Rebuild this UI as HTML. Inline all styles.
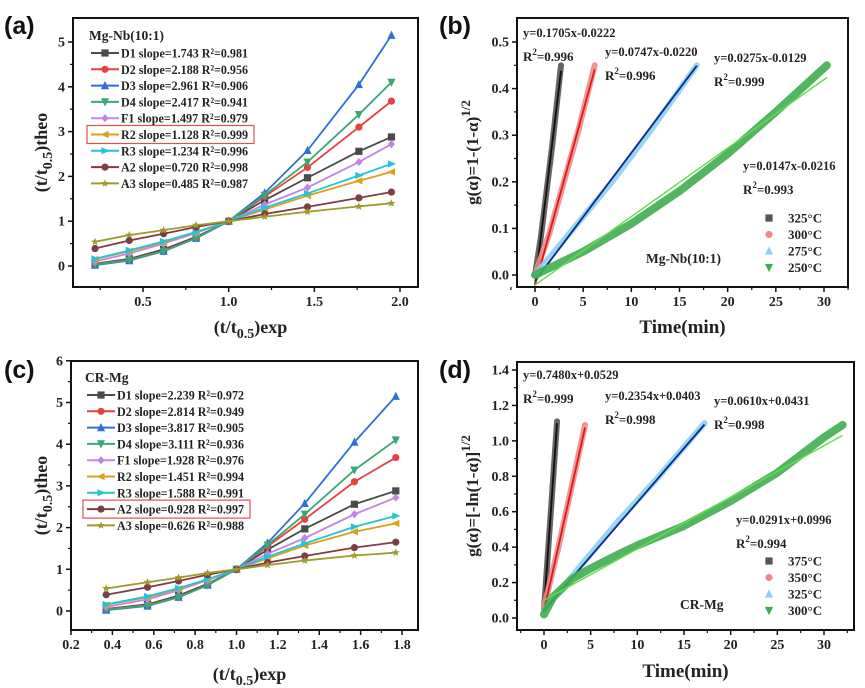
<!DOCTYPE html>
<html><head><meta charset="utf-8">
<style>
html,body{margin:0;padding:0;background:#fff;}
svg{display:block;}
text{font-family:"Liberation Serif",serif;font-weight:bold;fill:#222;}
.lab{font-family:"Liberation Sans",sans-serif;font-size:25px;fill:#111;}
</style></head>
<body>
<svg id="fig" width="865" height="688" viewBox="0 0 865 688" xmlns="http://www.w3.org/2000/svg"></svg>
<script>
// ---- Data: panels (a) and (c) ----
const seriesNames = ["D1","D2","D3","D4","F1","R2","R3","A2","A3"];
const xA = [0.22,0.42,0.62,0.81,1.0,1.21,1.46,1.76,1.95];
const xC = [0.37,0.57,0.72,0.86,1.0,1.15,1.33,1.57,1.77];
const yD1 = [0.05,0.16,0.37,0.65,1,1.47,1.97,2.56,2.88];
const yD2 = [0.04,0.14,0.34,0.63,1,1.55,2.2,3.1,3.68];
const yD3 = [0.02,0.12,0.33,0.62,1,1.63,2.58,4.05,5.15];
const yD4 = [0.03,0.13,0.33,0.62,1,1.58,2.32,3.38,4.1];
const yF1 = [0.1,0.28,0.5,0.74,1,1.37,1.75,2.32,2.72];
const yR2 = [0.15,0.33,0.53,0.76,1,1.26,1.57,1.9,2.1];
const yR3 = [0.16,0.35,0.55,0.76,1,1.3,1.62,2.02,2.28];
const yA2 = [0.39,0.57,0.72,0.87,1,1.16,1.32,1.52,1.65];
const yA3 = [0.54,0.69,0.8,0.91,1,1.1,1.21,1.33,1.4];
const legendA = ["D1 slope=1.743 R²=0.981","D2 slope=2.188 R²=0.956","D3 slope=2.961 R²=0.906","D4 slope=2.417 R²=0.941","F1 slope=1.497 R²=0.979","R2 slope=1.128 R²=0.999","R3 slope=1.234 R²=0.996","A2 slope=0.720 R²=0.998","A3 slope=0.485 R²=0.987"];
const legendC = ["D1 slope=2.239 R²=0.972","D2 slope=2.814 R²=0.949","D3 slope=3.817 R²=0.905","D4 slope=3.111 R²=0.936","F1 slope=1.928 R²=0.976","R2 slope=1.451 R²=0.994","R3 slope=1.588 R²=0.991","A2 slope=0.928 R²=0.997","A3 slope=0.626 R²=0.988"];
const ticksAx = [0.5,1.0,1.5,2.0];
const ticksAy = [0,1,2,3,4,5];
const ticksCx = [0.2,0.4,0.6,0.8,1.0,1.2,1.4,1.6,1.8];
const ticksCy = [0,1,2,3,4,5,6];
// ---- Data: panel (b) ----
const bTemps = ["325°C","300°C","275°C","250°C"];
const bDataT = [[0,0.6,1.2,1.8,2.7],[0,1.5,3,4.5,6.2],[0,4,8,12,16.8],[0,5,10,15,20,25,30.3]];
const bDataY = [[0,0.08,0.18,0.28,0.45],[0,0.09,0.2,0.31,0.45],[0,0.1,0.2,0.31,0.45],[0,0.05,0.11,0.18,0.26,0.35,0.45]];
const bSlope = [0.1705,0.0747,0.0275,0.0147];
const bInter = [-0.0222,-0.0220,-0.0129,-0.0216];
const bFitEnd = [2.7,6.2,16.8,30.3];
const ticksBx = [0,5,10,15,20,25,30];
const ticksBy = [0,0.1,0.2,0.3,0.4,0.5];
// ---- Data: panel (d) ----
const dTemps = ["375°C","350°C","325°C","300°C"];
const dDataT = [[0,0.4,0.8,1.4],[0,1.5,3,4.4],[0,4,8,12,17.2],[0,1,3,5,8,10,15,20,25,30,32]];
const dDataY = [[0.05,0.35,0.65,1.11],[0.06,0.39,0.75,1.09],[0.04,0.3,0.55,0.78,1.1],[0.02,0.12,0.22,0.28,0.36,0.41,0.52,0.66,0.82,1.02,1.09]];
const dSlope = [0.7480,0.2354,0.0610,0.0291];
const dInter = [0.0529,0.0403,0.0431,0.0996];
const dFitEnd = [1.4,4.4,17.2,32];
const ticksDx = [0,5,10,15,20,25,30];
const ticksDy = [0,0.2,0.4,0.6,0.8,1.0,1.2,1.4];

const NS="http://www.w3.org/2000/svg";
const svg=document.getElementById('fig');
function mk(tag,attrs,parent){const e=document.createElementNS(NS,tag);for(const k in attrs)e.setAttribute(k,attrs[k]);(parent||svg).appendChild(e);return e;}
function txt(s,attrs,parent){const e=mk('text',attrs,parent);e.textContent=s;return e;}

const colors=["#4a4a4a","#e8413c","#2f6fd6","#3aa872","#c184e8","#d9a21a","#22c4d6","#7e3d45","#9f9a2c"];
const markers=["square","circle","up","down","diamond","left","right","circle","star"];
function marker(type,x,y,c,g){
 const s=3.6;
 if(type==="square")return mk('rect',{x:x-s,y:y-s,width:2*s,height:2*s,fill:c},g);
 if(type==="circle")return mk('circle',{cx:x,cy:y,r:s,fill:c},g);
 let p;
 if(type==="up")p=[[x,y-s-1],[x-s-0.5,y+s],[x+s+0.5,y+s]];
 if(type==="down")p=[[x,y+s+1],[x-s-0.5,y-s],[x+s+0.5,y-s]];
 if(type==="left")p=[[x-s-1,y],[x+s,y-s],[x+s,y+s]];
 if(type==="right")p=[[x+s+1,y],[x-s,y-s],[x-s,y+s]];
 if(type==="diamond")p=[[x,y-s-0.5],[x+s,y],[x,y+s+0.5],[x-s,y]];
 if(type==="star"){p=[];for(let i=0;i<10;i++){const r=i%2?1.8:4.2,a=-Math.PI/2+i*Math.PI/5;p.push([x+r*Math.cos(a),y+r*Math.sin(a)]);}}
 return mk('polygon',{points:p.map(q=>q.join(',')).join(' '),fill:c},g);
}

function axes(g,fr,sx,sy,xt,yt,xfmt,yfmt,minorX,minorY){
 mk('rect',{x:fr.l,y:fr.t,width:fr.r-fr.l,height:fr.b-fr.t,fill:'none',stroke:'#111','stroke-width':2},g);
 xt.forEach(v=>{const x=sx(v);mk('line',{x1:x,y1:fr.b,x2:x,y2:fr.b+5,stroke:'#111','stroke-width':1.5},g);
  txt(xfmt(v),{x:x,y:fr.b+19,'text-anchor':'middle','font-size':14},g);});
 minorX.forEach(v=>{const x=sx(v);mk('line',{x1:x,y1:fr.b,x2:x,y2:fr.b+3,stroke:'#111','stroke-width':1.2},g);});
 yt.forEach(v=>{const y=sy(v);mk('line',{x1:fr.l-5,y1:y,x2:fr.l,y2:y,stroke:'#111','stroke-width':1.5},g);
  txt(yfmt(v),{x:fr.l-8,y:y+4.5,'text-anchor':'end','font-size':14},g);});
 minorY.forEach(v=>{const y=sy(v);mk('line',{x1:fr.l-3,y1:y,x2:fr.l,y2:y,stroke:'#111','stroke-width':1.2},g);});
}

const ys=[yD1,yD2,yD3,yD4,yF1,yR2,yR3,yA2,yA3];
function panelAC(opts){
 const g=mk('g',{},svg);
 
 
 const fr=opts.fr;
 const sx=v=>opts.x0px+(v-opts.x0)*opts.xk, sy=v=>opts.y0px-v*opts.yk;
 axes(g,fr,sx,sy,opts.xt,opts.yt,opts.xfmt,v=>String(v),opts.minorX,opts.minorY);
 ys.forEach((arr,i)=>{
  const sg=mk('g',{},g);
  
  
  const pts=opts.xs.map((x,j)=>sx(x)+','+sy(arr[j])).join(' ');
  mk('polyline',{points:pts,fill:'none',stroke:colors[i],'stroke-width':1.8},sg);
  opts.xs.forEach((x,j)=>marker(markers[i],sx(x),sy(arr[j]),colors[i],sg));
 });
 const lg=mk('g',{},g);
 
 
 txt(opts.title,{x:opts.lx-2,y:opts.ly-13,'font-size':13.5},lg);
 opts.legend.forEach((s,i)=>{
  const y=opts.ly+i*16.3;
  const eg=mk('g',{},lg);
  
  
  mk('line',{x1:opts.lx,y1:y,x2:opts.lx+28,y2:y,stroke:colors[i],'stroke-width':2},eg);
  marker(markers[i],opts.lx+14,y,colors[i],eg);
  txt(s,{x:opts.lx+30,y:y+4.5,'font-size':13,textLength:127,lengthAdjust:'spacingAndGlyphs'},eg);
 });
 const bi=opts.boxIdx, by=opts.ly+bi*16.3;
 const box=mk('rect',{x:opts.lx-4,y:by-9,width:167,height:18,fill:'none',stroke:'#e05050','stroke-width':1.2},lg);
 
 
 const xtl=txt('',{x:(fr.l+fr.r)/2+5,y:opts.xTitleY,'text-anchor':'middle','font-size':18},g);
 xtl.innerHTML='(t/t<tspan font-size="14" dy="5">0.5</tspan><tspan dy="-5">)exp</tspan>';
 
 
 const cy=(fr.t+fr.b)/2;
 const ytl=txt('',{x:0,y:0,'text-anchor':'middle','font-size':18,transform:`translate(${opts.yTitleX},${cy}) rotate(-90)`},g);
 ytl.innerHTML='(t/t<tspan font-size="14" dy="5">0.5</tspan><tspan dy="-5">)theo</tspan>';
 
 
 const pl=txt(opts.label,{x:4,y:opts.labelY,class:'lab'},g);
 
 
}

panelAC({name:'panel-a',fr:{l:73,r:418,t:18,b:287},x0:0.5,x0px:143,xk:(400-143)/1.5,y0px:266,yk:44.8,
 xs:xA,xt:ticksAx,yt:ticksAy,xfmt:v=>v.toFixed(1),minorX:[0.25,0.75,1.25,1.75],minorY:[0.5,1.5,2.5,3.5,4.5],
 legend:legendA,title:'Mg-Nb(10:1)',lx:91,ly:53,boxIdx:5,xTitleY:333,yTitleX:47,label:'(a)',labelY:34});
panelAC({name:'panel-c',fr:{l:71,r:418,t:361,b:630},x0:0.2,x0px:71,xk:(402-71)/1.6,y0px:611,yk:41.7,
 xs:xC,xt:ticksCx,yt:ticksCy,xfmt:v=>v.toFixed(1),minorX:[0.3,0.5,0.7,0.9,1.1,1.3,1.5,1.7],minorY:[0.5,1.5,2.5,3.5,4.5,5.5],
 legend:legendC,title:'CR-Mg',lx:87,ly:395,boxIdx:7,xTitleY:680,yTitleX:47,label:'(c)',labelY:378});

const tColors=["#555","#ef8a8a","#8cd0f2","#3fae4f"];
const fitColors=["#111","#e01818","#0a2a8a","#5fe04a"];
function panelBD(o){
 const g=mk('g',{},svg);
 
 
 const fr=o.fr;
 const sx=v=>o.x0px+v*o.xk, sy=v=>o.y0px-v*o.yk;
 axes(g,fr,sx,sy,o.xt,o.yt,v=>String(v),v=>v.toFixed(1),o.minorX,o.minorY);
 o.T.forEach((ts,i)=>{
  const sg=mk('g',{},g);
  
  
  mk('polyline',{points:ts.map((t,j)=>sx(t)+','+sy(o.Y[i][j])).join(' '),fill:'none',stroke:tColors[i],'stroke-width':i===3?8:6,'stroke-linecap':'round','stroke-linejoin':'round',opacity:0.9},sg);
  const f=mk('line',{x1:sx(0),y1:sy(o.inter[i]),x2:sx(o.fitEnd[i]),y2:sy(o.slope[i]*o.fitEnd[i]+o.inter[i]),stroke:fitColors[i],'stroke-width':i===3?1.4:1.8},sg);
  
  
 });
 o.ann.forEach(a=>{
  txt(a[0],{x:a[1],y:a[2],'font-size':12.5},g);
  const r=txt('',{x:a[1],y:a[2]+24,'font-size':13},g);
  r.innerHTML='R<tspan font-size="9" dy="-6">2</tspan><tspan dy="6">='+a[3]+'</tspan>';
 });
 const lg=mk('g',{},g);
 
 
 const mk4=["square","circle","up","down"];
 o.temps.forEach((s,i)=>{
  const y=o.ly+i*16.5;
  marker(mk4[i],o.lx,y,tColors[i],lg);
  txt(s,{x:o.lx+19,y:y+4.5,'font-size':13},lg);
 });
 txt(o.sample,{x:o.sx,y:o.sy,'font-size':13.5},g);
 const xtl=txt('Time(min)',{x:(fr.l+fr.r)/2,y:o.xTitleY,'text-anchor':'middle','font-size':19},g);
 
 
 const cy=(fr.t+fr.b)/2;
 const ytl=txt('',{x:0,y:0,'text-anchor':'middle','font-size':17,transform:`translate(${o.yTitleX},${cy}) rotate(-90)`},g);
 ytl.innerHTML=o.ytitle;
 
 
 const pl=txt(o.label,{x:439,y:o.labelY,class:'lab'},g);
 
 
}
panelBD({name:'panel-b',fr:{l:517,r:848,t:18,b:287},x0px:535,xk:(824-535)/30,y0px:275,yk:466,
 T:bDataT,Y:bDataY,slope:bSlope,inter:bInter,fitEnd:bFitEnd,temps:bTemps,xt:ticksBx,yt:ticksBy,
 minorX:[-2.5,2.5,7.5,12.5,17.5,22.5,27.5,32.5],minorY:[0.05,0.15,0.25,0.35,0.45],
 ann:[['y=0.1705x-0.0222',523,37,'0.996'],['y=0.0747x-0.0220',605,56,'0.996'],['y=0.0275x-0.0129',714,62,'0.999'],['y=0.0147x-0.0216',743,170,'0.993']],
 lx:769,ly:218,sample:'Mg-Nb(10:1)',sx:646,sy:263,xTitleY:333,yTitleX:478,label:'(b)',labelY:34,
 ytitle:'g(α)=1-(1-α)<tspan font-size="13" dy="-8">1/2</tspan>'});
panelBD({name:'panel-d',fr:{l:517,r:854,t:362,b:630},x0px:544,xk:(824-544)/30,y0px:618,yk:(618-370)/1.4,
 T:dDataT,Y:dDataY,slope:dSlope,inter:dInter,fitEnd:dFitEnd,temps:dTemps,xt:ticksDx,yt:ticksDy,
 minorX:[-2.5,2.5,7.5,12.5,17.5,22.5,27.5,32.5],minorY:[0.1,0.3,0.5,0.7,0.9,1.1,1.3],
 ann:[['y=0.7480x+0.0529',523,379,'0.999'],['y=0.2354x+0.0403',605,400,'0.998'],['y=0.0610x+0.0431',714,405,'0.998'],['y=0.0291x+0.0996',736,524,'0.994']],
 lx:769,ly:561,sample:'CR-Mg',sx:680,sy:609,xTitleY:677,yTitleX:478,label:'(d)',labelY:378,
 ytitle:'g(α)=[-ln(1-α)]<tspan font-size="13" dy="-8">1/2</tspan>'});
</script>
</body></html>
